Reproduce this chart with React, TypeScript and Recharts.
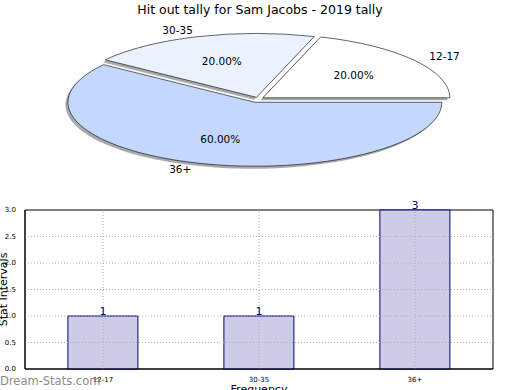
import React from 'react';
import { PieChart, Pie, Cell, BarChart, Bar, XAxis, YAxis, ReferenceLine, ReferenceArea, LabelList } from 'recharts';

const categories = ['12-17', '30-35', '36+'];
const counts = [1, 1, 3];
const percentLabels = ['20.00%', '20.00%', '60.00%'];
const yTicks = [0, 0.5, 1, 1.5, 2, 2.5, 3];
const pieColors = ['#ffffff', '#eaf2fe', '#c4d8fe'];
const explode = [6, 5, 10];

const K = 0.342;
const CX = 258;
const CY = 99;
const R = 187;
const FONT = '"DejaVu Sans", sans-serif';

const pieData = categories.map((name, i) => ({ name, value: counts[i] }));
const barData = categories.map((name, i) => ({ name, value: counts[i] }));

const total = counts.reduce((a, b) => a + b, 0);
const midAngles = counts.map((_, i) => {
  const before = counts.slice(0, i).reduce((a, b) => a + b, 0);
  return ((before + counts[i] / 2) / total) * 360;
});
const RAD = Math.PI / 180;

const makeLabel = (i: number) => (p: any) => {
  if (p.index !== i) return null;
  const m = p.midAngle;
  const c = Math.cos(m * RAD);
  const s = Math.sin(m * RAD);
  const ox = p.cx + 1.1 * p.outerRadius * c;
  const oy = p.cy - 1.1 * p.outerRadius * s;
  const ix = p.cx + 0.6 * p.outerRadius * c;
  const iy = p.cy - 0.6 * p.outerRadius * s;
  return (
    <g>
      <g transform={`translate(${ox},${oy}) scale(1,${1 / K})`}>
        <text x={0} y={0} textAnchor={c > 0 ? 'start' : 'end'} dominantBaseline="central" fontSize={10.5} fontFamily={FONT} fill="#000">
          {p.name}
        </text>
      </g>
      <g transform={`translate(${ix},${iy}) scale(1,${1 / K})`}>
        <text x={0} y={0} textAnchor="middle" dominantBaseline="central" fontSize={10.5} fontFamily={FONT} fill="#000">
          {percentLabels[i]}
        </text>
      </g>
    </g>
  );
};

export default function App() {
  const pies = categories.map((_, i) => {
    const m = midAngles[i];
    const cx = CX + explode[i] * Math.cos(m * RAD);
    const cy = CY / K - explode[i] * Math.sin(m * RAD);
    return { cx, cy };
  });
  return (
    <div style={{ position: 'absolute', left: 0, top: 0, width: 520, height: 390, overflow: 'hidden', background: '#fff' }}>
      <div style={{ position: 'absolute', left: 0, top: 0, width: 520, fontFamily: FONT, fontSize: 12.5, textAlign: 'center', lineHeight: '20px', color: '#000' }}>
        Hit out tally for Sam Jacobs - 2019 tally
      </div>
      <div style={{ position: 'absolute', left: 0, top: 0, transform: `scaleY(${K})`, transformOrigin: '0 0' }}>
        <PieChart width={520} height={560} margin={{ top: 0, right: 0, bottom: 0, left: 0 }}>
          {categories.map((_, i) => (
            <Pie
              key={'s' + i}
              data={pieData}
              dataKey="value"
              nameKey="name"
              cx={pies[i].cx - 2.5}
              cy={pies[i].cy + 2.5 / K}
              outerRadius={R}
              startAngle={0}
              endAngle={360}
              isAnimationActive={false}
              label={false}
              labelLine={false}
            >
              {pieData.map((d, j) => (
                <Cell key={j} fill={j === i ? '#555' : 'none'} fillOpacity={0.5} stroke="none" />
              ))}
            </Pie>
          ))}
          {categories.map((_, i) => (
            <Pie
              key={'p' + i}
              data={pieData}
              dataKey="value"
              nameKey="name"
              cx={pies[i].cx}
              cy={pies[i].cy}
              outerRadius={R}
              startAngle={0}
              endAngle={360}
              isAnimationActive={false}
              label={makeLabel(i)}
              labelLine={false}
            >
              {pieData.map((d, j) => (
                <Cell
                  key={j}
                  fill={j === i ? pieColors[i] : 'none'}
                  stroke={j === i ? '#000' : 'none'}
                  strokeWidth={0.9}
                  vectorEffect="non-scaling-stroke"
                />
              ))}
            </Pie>
          ))}
        </PieChart>
      </div>
      <div style={{ position: 'absolute', left: 0, top: 0 }}>
        <BarChart width={520} height={390} data={barData} margin={{ top: 210, right: 27, bottom: 0, left: 0 }} barCategoryGap="27.5%">
          <XAxis
            dataKey="name"
            height={21}
            interval={0}
            tick={{ fontSize: 7, fill: '#000', fontFamily: FONT }}
            tickLine={false}
            axisLine={{ stroke: '#000' }}
            tickMargin={2}
          />
          <YAxis
            domain={[0, 3]}
            ticks={yTicks}
            width={25}
            interval={0}
            tick={{ fontSize: 7, fill: '#000', fontFamily: FONT }}
            tickFormatter={(v: number) => v.toFixed(1)}
            tickLine={false}
            tickMargin={3}
            axisLine={{ stroke: '#000' }}
          />
          <Bar dataKey="value" fill="#ccccE6" stroke="#000080" strokeWidth={1} isAnimationActive={false}>
            <LabelList dataKey="value" position="top" offset={1} fill="#000080" fontSize={11} fontFamily={FONT} />
          </Bar>
          {yTicks.slice(1, -1).map((t) => (
            <ReferenceLine key={'y' + t} y={t} stroke="#b0b0b0" strokeDasharray="1 2" />
          ))}
          {categories.map((c) => (
            <ReferenceLine key={'x' + c} x={c} stroke="#b0b0b0" strokeDasharray="1 2" />
          ))}
          <ReferenceArea y1={0} y2={3} fill="none" fillOpacity={0} stroke="#000" strokeWidth={1} />
        </BarChart>
      </div>
      <svg width={520} height={390} style={{ position: 'absolute', left: 0, top: 0, pointerEvents: 'none' }}>
        <text x={0} y={0} transform="translate(7,289.5) rotate(-90)" textAnchor="middle" fontSize={11} fontFamily={FONT} fill="#000">
          Stat Intervals
        </text>
        <text x={259} y={393} textAnchor="middle" fontSize={11} fontFamily={FONT} fill="#000">
          Frequency
        </text>
        <text x={0} y={384.5} textAnchor="start" fontSize={11.5} fontFamily={FONT} fill="#8c8c8c">
          Dream-Stats.com
        </text>
      </svg>
    </div>
  );
}
